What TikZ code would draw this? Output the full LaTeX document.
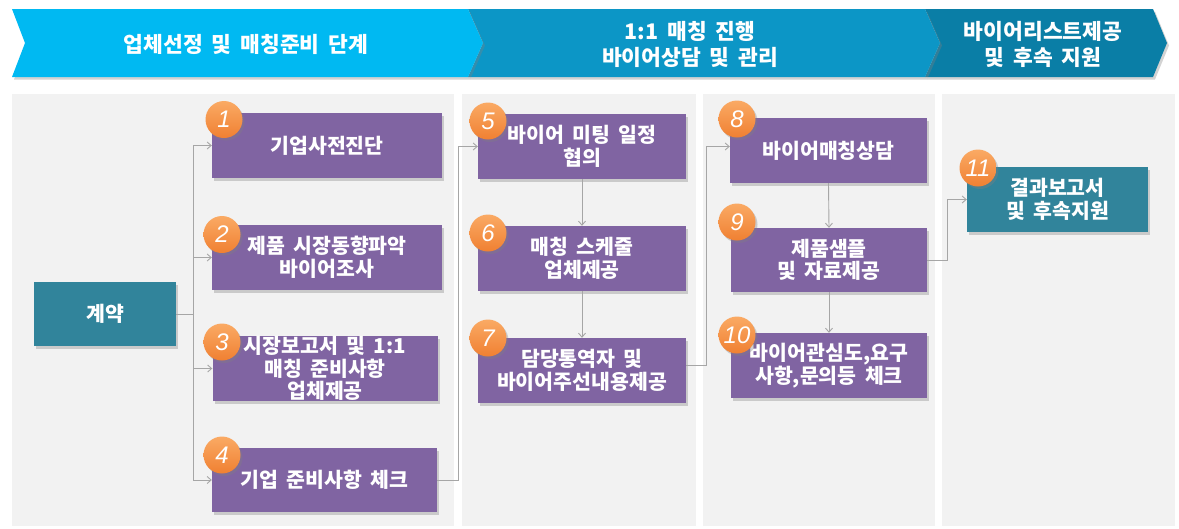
\documentclass[tikz,border=0pt]{standalone}
\usepackage{fontspec}
\setmainfont{Noto Sans CJK KR}[WordSpace=1.8]
\newfontfamily\numfont{Liberation Sans}
\usetikzlibrary{shadows,arrows.meta,calc}
\definecolor{cA}{RGB}{0,185,242}
\definecolor{cB}{RGB}{12,150,198}
\definecolor{cC}{RGB}{10,126,166}
\definecolor{panelgray}{RGB}{242,242,242}
\definecolor{purp}{RGB}{128,100,162}
\definecolor{tealbox}{RGB}{49,132,155}
\definecolor{conngray}{RGB}{166,166,166}
\definecolor{orgtop}{RGB}{250,170,100}
\definecolor{orgbot}{RGB}{240,128,50}
\begin{document}
\begin{tikzpicture}[x=1pt,y=-1pt,
  panel/.style={fill=panelgray},
  shd/.style={drop shadow={shadow xshift=2pt,shadow yshift=-2.5pt,opacity=0.35}},
  chev/.style={shd},
  pbox/.style={rectangle, fill=purp, text=white, font=\bfseries\fontsize{20.5}{22.5}\selectfont, align=center, inner sep=0pt, shd},
  tbox/.style={pbox, fill=tealbox},
  num/.style={circle, minimum size=37pt, inner sep=0pt, top color=orgtop, bottom color=orgbot, text=white, font=\numfont\itshape\fontsize{24}{24}\selectfont, shd},
  conn/.style={draw=conngray, line width=0.9pt, -{Straight Barb[length=4pt,width=7pt]}},
  hd/.style={text=white, font=\bfseries\fontsize{21.5}{26}\selectfont, align=center, inner sep=0pt},
]
\useasboundingbox (0,0) rectangle (1179,528);
% panels
\fill[panel] (12,94) rectangle (454,526);
\fill[panel] (462,94) rectangle (696,526);
\fill[panel] (703,94) rectangle (935,526);
\fill[panel] (942,94) rectangle (1175,526);
% chevrons
\path[fill=cC, chev] (925,9) -- (1153,9) -- (1167,43) -- (1153,77) -- (925,77) -- (940,43) -- cycle;
\path[fill=cB, chev] (468,9) -- (925,9) -- (940,43) -- (925,77) -- (468,77) -- (483,43) -- cycle;
\path[fill=cA, chev] (12,9) -- (468,9) -- (483,43) -- (468,77) -- (12,77) -- (25,43) -- cycle;
\node[hd] (h1) at (246,44) {업체선정 및 매칭준비 단계};
\node[hd] (h2) at (690,44) {1:1 매칭 진행\\바이어상담 및 관리};
\node[hd] (h3) at (1043,44) {바이어리스트제공\\및 후속 지원};
% boxes
\node[tbox, minimum width=142pt, minimum height=64pt] (k) at (105,314) {계약};
\node[pbox, minimum width=230pt, minimum height=65pt] (b1) at (327,145.5) {기업사전진단};
\node[pbox, minimum width=230pt, minimum height=65pt] (b2) at (327,257.5) {제품 시장동향파악\\바이어조사};
\node[pbox, minimum width=225pt, minimum height=65pt] (b3) at (325,368.5) {시장보고서 및 1:1\\매칭 준비사항\\업체제공};
\node[pbox, minimum width=225pt, minimum height=64pt] (b4) at (324.5,480) {기업 준비사항 체크};
\node[pbox, minimum width=208pt, minimum height=65pt] (b5) at (582,146.5) {바이어 미팅 일정\\협의};
\node[pbox, minimum width=208pt, minimum height=65pt] (b6) at (582,258.5) {매칭 스케줄\\업체제공};
\node[pbox, minimum width=208pt, minimum height=65pt] (b7) at (582,370.5) {담당통역자 및\\바이어주선내용제공};
\node[pbox, minimum width=197pt, minimum height=65pt] (b8) at (828.5,150.5) {바이어매칭상담};
\node[pbox, minimum width=196pt, minimum height=64pt] (b9) at (829,260) {제품샘플\\및 자료제공};
\node[pbox, minimum width=196pt, minimum height=65pt] (b10) at (829,365.5) {바이어관심도,요구\\사항,문의등 체크};
\node[tbox, minimum width=181pt, minimum height=65pt] (b11) at (1057.5,199.5) {결과보고서\\및 후속지원};
% number circles
\node[num] (n1) at (224,119.5) {1};
\node[num] (n2) at (222,234.5) {2};
\node[num] (n3) at (222,342) {3};
\node[num] (n4) at (222,455) {4};
\node[num] (n5) at (488,121) {5};
\node[num] (n6) at (488,233) {6};
\node[num] (n7) at (488,338) {7};
\node[num] (n8) at (737,119) {8};
\node[num] (n9) at (737,222) {9};
\node[num] (n10) at (737,335) {10};
\node[num] (n11) at (978,168) {11};
% connectors
\coordinate (j1) at (193,0);
\coordinate (j2) at (458,0);
\coordinate (j3) at (706,0);
\coordinate (j4) at (947,0);
\coordinate (b7out) at ([yshift=5pt]b7.east);
\coordinate (b8in) at ([yshift=4pt]b8.west);
\draw[conn] (k.east) -| (j1 |- b1.west) -- (b1.west);
\draw[conn] (k.east) -| (j1 |- b2.west) -- (b2.west);
\draw[conn] (k.east) -| (j1 |- b3.west) -- (b3.west);
\draw[conn] (k.east) -| (j1 |- b4.west) -- (b4.west);
\draw[conn] (b4.east) -| (j2 |- b5.west) -- (b5.west);
\draw[conn] (b5.south) -- (b6.north);
\draw[conn] (b6.south) -- (b7.north);
\draw[conn] (b7out) -| (j3 |- b8in) -- (b8in);
\draw[conn] (b8.south) -- (b9.north);
\draw[conn] (b9.south) -- (b10.north);
\draw[conn] (b9.east) -| (j4 |- b11.west) -- (b11.west);
\end{tikzpicture}
\end{document}
